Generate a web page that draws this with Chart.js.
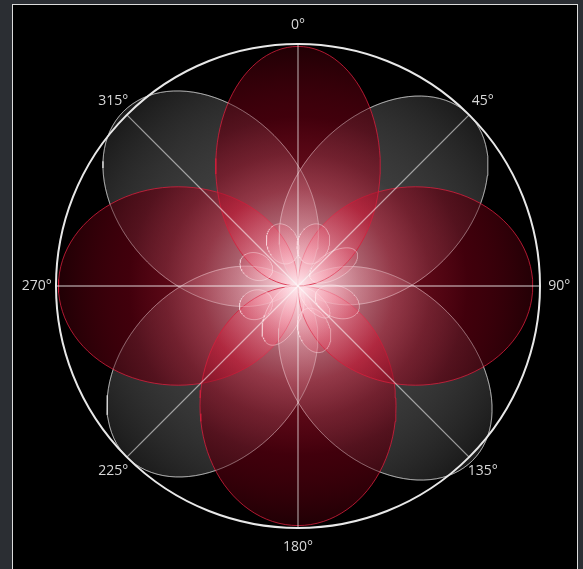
<!DOCTYPE html>
<html>
<head>
<meta charset="utf-8">
<script src="https://cdn.jsdelivr.net/npm/chart.js@4/dist/chart.umd.min.js"></script>
<style>
  html, body { margin: 0; padding: 0; background: #2b2e33; overflow: hidden; }
  #frame { position: absolute; left: 12px; top: 4px; width: 564px; height: 600px; background: #000; border: 1px solid #dcdcdc; }
  #wrap { position: absolute; left: 0; top: 0; width: 583px; height: 569px; }
</style>
</head>
<body>
<div id="frame"></div>
<div id="wrap"><canvas id="polar"></canvas></div>
<script>
// main lobes (red) along the axes
const mainAngles = [0, 90, 180, 270];
const mainReach  = [0.99, 0.97, 0.99, 0.99];
const mainWidth  = [0.34, 0.41, 0.405, 0.41];

// diagonal lobes (grey)
const diagAngles = [45, 135, 225, 315];
const diagReach  = [1.0, 1.02, 1.0, 1.02];
const diagWidth  = [0.35, 0.36, 0.36, 0.37];

// small side lobes around the centre
const sideAngles = [340, 20, 60, 112, 135, 207, 160, 246, 295];
const sideStart  = [0.10, 0.10, 0.06, 0.08, 0.02, 0.0, 0.10, 0.12, 0.12];
const sideEnd    = [0.27, 0.27, 0.28, 0.27, 0.18, 0.27, 0.29, 0.26, 0.26];
const sideWidth  = [0.065, 0.065, 0.055, 0.065, 0.035, 0.07, 0.065, 0.06, 0.055];

const tickAngles = [0, 45, 90, 135, 180, 225, 270, 315];
const tickLabels = ['0°', '45°', '90°', '135°', '180°', '225°', '270°', '315°'];

const R = 242; // px per unit

// outline of a lobe (ellipse along its direction)
const lobe = (deg, d0, d1, w) => {
  const th = deg * Math.PI / 180;
  const ux = Math.sin(th), uy = Math.cos(th);
  const vx = Math.cos(th), vy = -Math.sin(th);
  const c = (d0 + d1) / 2, a = (d1 - d0) / 2;
  let pts = [];
  for (let i = 0; i <= 96; i++) {
    const t = i / 96 * Math.PI * 2;
    const al = c - a * Math.cos(t), ac = w * Math.sin(t);
    pts.push({x: al * ux + ac * vx, y: al * uy + ac * vy});
  }
  return pts;
};

const gradient = (stops) => (ctx) => {
  const chart = ctx.chart;
  const sx = chart.scales.x, sy = chart.scales.y;
  if (!chart.chartArea || !sx || !sy) return 'rgba(0,0,0,0)';
  const cx = sx.getPixelForValue(0), cy = sy.getPixelForValue(0);
  const r = sx.getPixelForValue(1) - cx;
  const g = chart.ctx.createRadialGradient(cx, cy, 0, cx, cy, r);
  stops.forEach(s => g.addColorStop(s[0], s[1]));
  return g;
};

const redFill = gradient([
  [0, 'rgba(255,235,240,0.8)'], [0.15, 'rgba(245,140,160,0.55)'],
  [0.4, 'rgba(205,25,55,0.5)'], [0.7, 'rgba(100,0,18,0.65)'], [1, 'rgba(35,0,5,0.88)']
]);
const greyFill = gradient([
  [0, 'rgba(255,255,255,0.8)'], [0.25, 'rgba(200,200,200,0.55)'],
  [0.55, 'rgba(92,92,92,0.65)'], [1, 'rgba(30,30,30,0.9)']
]);
const sideFill = gradient([
  [0, 'rgba(255,240,245,0.5)'], [0.15, 'rgba(250,170,185,0.3)'], [0.3, 'rgba(230,60,90,0.25)']
]);

let datasets = [];
sideAngles.forEach((a, i) => datasets.push({
  label: 'side ' + a, data: lobe(a, sideStart[i], sideEnd[i], sideWidth[i]),
  backgroundColor: sideFill, borderColor: 'rgba(255,230,235,0.45)', fill: 'shape'
}));
// faint outlines of the grey lobes, seen through the red ones
diagAngles.forEach((a, i) => datasets.push({
  label: a + '° edge', data: lobe(a, 0, diagReach[i], diagWidth[i]),
  borderColor: 'rgba(225,225,225,0.3)', fill: false
}));
mainAngles.forEach((a, i) => datasets.push({
  label: a + '°', data: lobe(a, 0, mainReach[i], mainWidth[i]),
  backgroundColor: redFill, borderColor: 'rgba(215,30,60,0.8)', fill: 'shape'
}));
diagAngles.forEach((a, i) => datasets.push({
  label: a + '°', data: lobe(a, 0, diagReach[i], diagWidth[i]),
  backgroundColor: greyFill, borderColor: 'rgba(225,225,225,0.6)', fill: 'shape'
}));
datasets.forEach(d => { d.showLine = true; d.pointRadius = 0; d.borderWidth = 1; });

const polarGrid = {
  id: 'polarGrid',
  afterDatasetsDraw(chart) {
    const c = chart.ctx, sx = chart.scales.x, sy = chart.scales.y;
    const cx = sx.getPixelForValue(0), cy = sy.getPixelForValue(0);
    const r = sx.getPixelForValue(1) - cx;
    c.save();
    c.strokeStyle = 'rgba(255,255,255,0.55)';
    c.lineWidth = 1.3;
    tickAngles.forEach(a => {
      const th = a * Math.PI / 180;
      c.beginPath();
      c.moveTo(cx, cy);
      c.lineTo(cx + r * Math.sin(th), cy - r * Math.cos(th));
      c.stroke();
    });
    c.strokeStyle = '#e8e8e8';
    c.lineWidth = 2;
    c.beginPath();
    c.arc(cx, cy, r, 0, Math.PI * 2);
    c.stroke();
    c.fillStyle = '#d8d8d8';
    c.font = '14px "Open Sans"';
    c.textAlign = 'center';
    c.textBaseline = 'middle';
    tickAngles.forEach((a, i) => {
      const th = a * Math.PI / 180;
      c.fillText(tickLabels[i], cx + 1.08 * r * Math.sin(th), cy - 1.08 * r * Math.cos(th));
    });
    c.restore();
  }
};

new Chart(document.getElementById('polar'), {
  type: 'scatter',
  data: { datasets: datasets },
  options: {
    responsive: true,
    maintainAspectRatio: false,
    animation: false,
    layout: { padding: 0, autoPadding: false },
    scales: {
      x: { type: 'linear', display: false, min: -298 / R, max: 285 / R },
      y: { type: 'linear', display: false, min: -283 / R, max: 286 / R }
    },
    plugins: { legend: { display: false }, tooltip: { enabled: false } }
  },
  plugins: [polarGrid]
});
</script>
</body>
</html>
